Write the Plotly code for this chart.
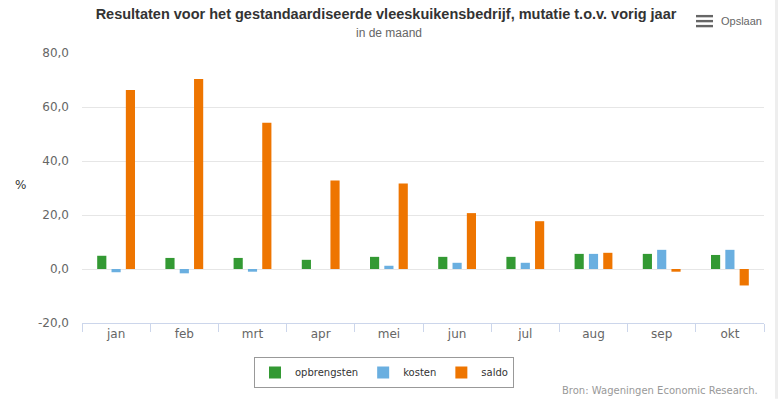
import plotly.graph_objects as go

maanden = ["jan", "feb", "mrt", "apr", "mei", "jun", "jul", "aug", "sep", "okt"]
opbrengsten = [4.9, 4.1, 4.1, 3.4, 4.5, 4.5, 4.5, 5.6, 5.6, 5.2]
kosten = [-1.2, -1.6, -1.0, 0.0, 1.2, 2.3, 2.3, 5.6, 7.1, 7.1]
saldo = [66.3, 70.4, 54.2, 32.8, 31.7, 20.7, 17.7, 6.0, -1.0, -6.1]
y_ticks = [-20, 0, 20, 40, 60, 80]
y_labels = ["-20,0", "0,0", "20,0", "40,0", "60,0", "80,0"]

W, H = 778, 399
L, R, T, B = 82, 14, 53, 75
pw, ph = W - L - R, H - T - B

def px(x):
    return (x - L) / pw

def py(y):
    return (H - B - y) / ph

fig = go.Figure()
for name, vals, col in [("opbrengsten", opbrengsten, "#339933"),
                        ("kosten", kosten, "#6aafe0"),
                        ("saldo", saldo, "#ee7500")]:
    fig.add_trace(go.Bar(x=maanden, y=vals, name=name, marker_color=col,
                         marker_line_width=0,
                         hovertemplate="%{x}: %{y:.1f}<extra>" + name + "</extra>"))

shapes = []
# hamburger icon
for yy in [16, 21, 26]:
    shapes.append(dict(type="rect", xref="paper", yref="paper",
                       x0=px(696), x1=px(713), y0=py(yy - 1.2), y1=py(yy + 1.2),
                       fillcolor="#666666", line_width=0))
# right strip
shapes.append(dict(type="rect", xref="paper", yref="paper",
                   x0=px(775), x1=px(779), y0=py(400), y1=py(-1),
                   fillcolor="#eeeeee", line_width=0, layer="below"))

fig.update_layout(
    width=W, height=H,
    margin=dict(l=L, r=R, t=T, b=B),
    paper_bgcolor="white", plot_bgcolor="white",
    barmode="group", bargap=0.37, bargroupgap=0.36,
    font=dict(family="DejaVu Sans", size=11, color="#666666"),
    title=dict(text="<b>Resultaten voor het gestandaardiseerde vleeskuikensbedrijf, mutatie t.o.v. vorig jaar</b>",
               x=0.5 + (386 - (L + pw / 2)) / pw, xref="paper", xanchor="center",
               y=1 - 14 / H, yanchor="middle",
               font=dict(family="Liberation Sans", size=14.5, color="#333333")),
    showlegend=True,
    legend=dict(orientation="h", x=0.5 + (384 - (L + pw / 2)) / pw, xanchor="center",
                y=py(357), yanchor="top",
                bordercolor="#999999", borderwidth=1, bgcolor="white",
                font=dict(family="DejaVu Sans", size=10, color="#333333"),
                itemwidth=30, tracegroupgap=0),
    xaxis=dict(showgrid=False, showline=True, linecolor="#ccd6eb", linewidth=1,
               ticks="outside", tickson="boundaries", ticklen=8, tickcolor="#ccd6eb",
               tickfont=dict(family="DejaVu Sans", size=12, color="#666666"),
               zeroline=False, fixedrange=True),
    yaxis=dict(range=[-20, 80], tickvals=y_ticks, ticktext=y_labels,
               showgrid=True, gridcolor="#e6e6e6", gridwidth=1,
               zeroline=False, showline=False, ticks="",
               tickfont=dict(family="DejaVu Sans", size=12, color="#666666"),
               ticklabelstandoff=12, fixedrange=True),
    shapes=shapes,
    annotations=[
        dict(text="in de maand", xref="paper", yref="paper", x=0.5 + (389 - (L + pw / 2)) / pw,
             y=py(33), xanchor="center", yanchor="middle", showarrow=False,
             font=dict(family="Liberation Sans", size=12, color="#666666")),
        dict(text="%", xref="paper", yref="paper", x=px(20), y=py(185),
             xanchor="center", yanchor="middle", showarrow=False,
             font=dict(family="DejaVu Sans", size=12, color="#333333")),
        dict(text="Opslaan", xref="paper", yref="paper", x=px(719), y=py(21),
             xanchor="left", yanchor="middle", showarrow=False,
             font=dict(family="Liberation Sans", size=11, color="#666666")),
        dict(text="Bron: Wageningen Economic Research.", xref="paper", yref="paper",
             x=px(760), y=py(392), xanchor="right", yanchor="middle", showarrow=False,
             font=dict(family="DejaVu Sans", size=10, color="#999999")),
    ],
)

fig.write_html("out.html", config={"displayModeBar": False},
               post_script="document.body.style.margin='0';")
